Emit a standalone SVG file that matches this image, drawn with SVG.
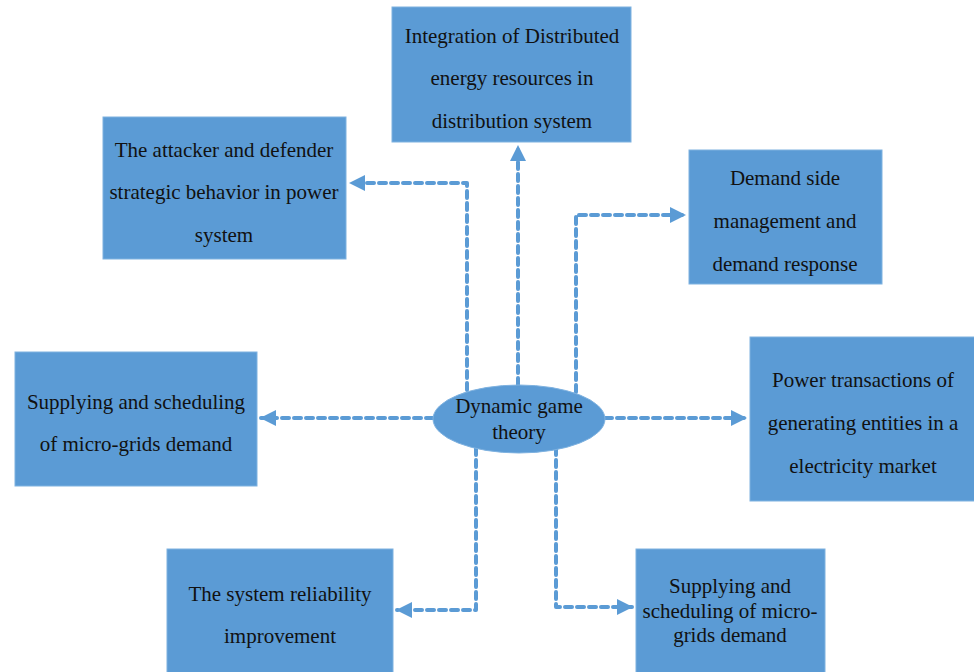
<svg xmlns="http://www.w3.org/2000/svg" width="974" height="672" viewBox="0 0 974 672">
<style>
.box{fill:#5B9BD5;stroke:#7FB2E0;stroke-width:1}
.t{font-family:"Liberation Serif","Times New Roman","DejaVu Serif",serif;font-size:21px;fill:#111;text-anchor:middle;dominant-baseline:central}
.c{fill:none;stroke:#5B9BD5;stroke-width:4;stroke-dasharray:7 5;stroke-linecap:round;stroke-linejoin:round}
</style>
<defs>
<marker id="ah" markerUnits="userSpaceOnUse" markerWidth="16" markerHeight="16" viewBox="0 0 16 16" refX="15" refY="8" orient="auto">
<path d="M0,0 L16,8 L0,16 Z" fill="#5B9BD5"/>
</marker>
</defs>
<rect width="974" height="672" fill="#fff"/>
<g id="connectors">
<path class="c" d="M518,385 V146" marker-end="url(#ah)"/>
<path class="c" d="M467,390 V183 H350" marker-end="url(#ah)"/>
<path class="c" d="M576,392 V215 H685" marker-end="url(#ah)"/>
<path class="c" d="M433,418 H261" marker-end="url(#ah)"/>
<path class="c" d="M605,418 H746" marker-end="url(#ah)"/>
<path class="c" d="M476,448 V610 H397" marker-end="url(#ah)"/>
<path class="c" d="M556,448 V607 H632" marker-end="url(#ah)"/>
</g>
<g id="n_top"><rect class="box" x="392" y="7" width="239" height="135"/>
<text class="t" x="512" y="36">Integration of Distributed</text>
<text class="t" x="512" y="78">energy resources in</text>
<text class="t" x="512" y="121">distribution system</text></g>
<g id="n_attacker"><rect class="box" x="103" y="117" width="243" height="142"/>
<text class="t" x="224" y="150">The attacker and defender</text>
<text class="t" x="224" y="192">strategic behavior in power</text>
<text class="t" x="224" y="235">system</text></g>
<g id="n_demand"><rect class="box" x="689" y="150" width="193" height="134"/>
<text class="t" x="785" y="178">Demand side</text>
<text class="t" x="785" y="221">management and</text>
<text class="t" x="785" y="264">demand response</text></g>
<g id="n_left"><rect class="box" x="15" y="352" width="242" height="134"/>
<text class="t" x="136" y="402">Supplying and scheduling</text>
<text class="t" x="136" y="444">of micro-grids demand</text></g>
<g id="n_power"><rect class="box" x="750" y="337" width="230" height="164"/>
<text class="t" x="863" y="380">Power transactions of</text>
<text class="t" x="863" y="423">generating entities in a</text>
<text class="t" x="863" y="466">electricity market</text></g>
<g id="n_reliab"><rect class="box" x="167" y="549" width="226" height="130"/>
<text class="t" x="280" y="594">The system reliability</text>
<text class="t" x="280" y="636">improvement</text></g>
<g id="n_micro"><rect class="box" x="636" y="549" width="189" height="130"/>
<text class="t" x="730" y="586">Supplying and</text>
<text class="t" x="730" y="611">scheduling of micro-</text>
<text class="t" x="730" y="635">grids demand</text></g>
<g id="n_center"><ellipse cx="519" cy="419" rx="86" ry="34" fill="#5B9BD5" stroke="#7FB2E0" stroke-width="1"/>
<text class="t" x="519" y="406">Dynamic game</text>
<text class="t" x="519" y="432">theory</text></g>
</svg>
